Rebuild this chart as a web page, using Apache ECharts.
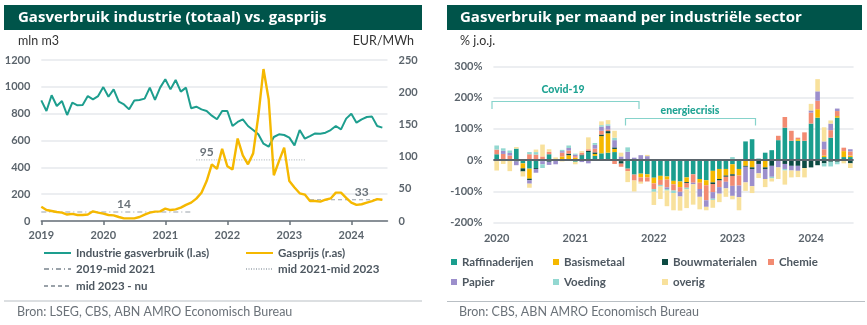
<!DOCTYPE html>
<html><head><meta charset="utf-8">
<script src="https://cdn.jsdelivr.net/npm/echarts@6/dist/echarts.min.js"></script>
<style>html,body{margin:0;padding:0;background:#fff}#c{width:867px;height:325px}</style>
</head><body><div id="c"></div>
<script>
// ---------- categories / tick labels ----------
const leftYears = ['2019','2020','2021','2022','2023','2024'];
const rightYears = ['2020','2021','2022','2023','2024'];
const monthCodes = ['01','02','03','04','05','06','07','08','09','10','11','12'];
const leftMonths = [];
leftYears.forEach(y => monthCodes.forEach(m => leftMonths.push(y + '-' + m)));
leftMonths.length = 68; // Jan 2019 .. Aug 2024
const rightMonths = [];
rightYears.forEach(y => monthCodes.forEach(m => rightMonths.push(y + '-' + m)));
rightMonths.length = 55; // Jan 2020 .. Jul 2024

// ---------- left chart values ----------
const gasUse = [
  899, 820, 937, 857, 894, 790, 882, 862, 864, 931, 907, 931,
  998, 926, 981, 889, 869, 832, 899, 902, 912, 994, 902, 994,
  1056, 981, 1051, 964, 994, 840, 852, 832, 820, 785, 758, 820,
  820, 708, 738, 758, 708, 678, 646, 576, 554, 626, 646, 641,
  621, 564, 678, 614, 633, 653, 651, 658, 678, 708, 683, 763,
  800, 733, 758, 775, 778, 708, 696, null
];
const gasPrice = [
  22, 17, 15.5, 14, 13, 10, 11, 9.3, 9.3, 10, 15, 13,
  11.4, 9.3, 8.8, 6.2, 4.1, 4.1, 4.1, 6.2, 10, 13, 14.5, 15,
  19.2, 17, 18, 20.7, 25, 28.5, 34.7, 44, 62, 88, 81, 112,
  85, 80, 128, 102, 88, 105, 163, 236, 189, 71, 93, 114,
  62, 52, 43, 41, 31, 31, 30, 33, 35, 44, 44, 36,
  28.5, 25, 26, 28.5, 31, 34, 33, null
];
const periodNames = ['2019-mid 2021', 'mid 2021-mid 2023', 'mid 2023 - nu'];
const periodAverages = [14, 95, 33];
const periodStart = [0, 30, 52];
const periodEnd = [29, 51, 66];
const periodLabelAt = [16, 32, 62];

// ---------- right chart values (% j.o.j., Jan 2020 .. Jul 2024) ----------
const sectorNames = ['Raffinaderijen','Basismetaal','Bouwmaterialen','Chemie','Papier','Voeding','overig'];
const raffinaderijen = [19,0,0,37,-10,-27,-25,-3,19,0,0,0,-5,15,26,14,22,24,26,0,-27,-46,-43,-45,
  -56,-50,-52,-66,-68,-55,-45,-60,-64,-34,-28,-28,-13,-28,60,67,5,24,32,64,104,62,62,62,
  117,136,10,72,136,10,10];
const basismetaal = [0,0,3,0,-16,-32,0,0,0,0,12,16,8,0,0,6,55,62,10,-3,0,0,-12,-10,
  -18,-13,-10,-11,-18,-15,0,-12,-16,-37,-32,-21,-32,-21,-18,-23,0,-23,0,0,0,0,5,0,
  0,27,5,0,5,19,5];
const bouwmaterialen = [-3,0,0,-4,-10,-5,-3,0,-5,0,0,5,0,3,4,5,5,7,5,-8,0,0,0,3,
  0,0,0,0,0,-3,0,0,0,-5,-5,-4,-5,0,-3,-5,-12,-5,-18,0,-12,-18,-18,-25,
  -23,-16,-10,-5,-5,0,-10];
const chemie = [15,20,12,0,0,19,18,12,8,3,12,10,5,6,5,12,12,5,-12,-10,-8,-19,-14,-13,
  -18,-16,-25,-20,-15,-15,-27,-20,-48,-26,-21,-16,-32,-32,0,0,0,0,0,14,34,32,5,27,
  35,27,20,24,16,11,13];
const papier = [0,10,8,-12,0,-11,-12,-10,-10,-13,5,8,5,-6,-10,12,13,12,23,12,27,8,16,10,
  0,0,-5,0,-15,0,-5,-25,-21,-21,-21,-21,-32,-37,-50,-55,-30,-32,-35,-23,-16,-15,-16,0,
  7,30,25,21,8,0,7];
const voeding = [13,8,8,0,0,7,8,-12,0,0,4,8,3,0,0,6,5,5,8,0,14,0,0,0,
  -9,-5,-5,-8,0,-5,0,0,0,-4,0,0,10,0,0,0,0,0,-5,0,-5,0,0,0,
  0,0,-10,-15,-8,0,0];
const overig = [-30,-12,-35,5,-16,-13,8,38,8,6,-4,0,-8,5,38,0,12,13,22,12,-35,-35,-6,4,
  -42,-40,-50,-55,-45,-60,-65,-40,-11,-25,-27,-27,-11,-42,-27,-22,-15,-26,-10,-37,-45,-22,-20,-30,
  21,39,45,10,0,-10,-15];
const sectorValues = [raffinaderijen, basismetaal, bouwmaterialen, chemie, papier, voeding, overig];
const sectorColors = ['#1a9e8e','#f5b800','#0c4a42','#f28b72','#9c8fcc','#93d8d1','#f8e19c'];

const yLeftTicks = {min:0, max:1200, interval:200};
const yRightTicks = {min:0, max:250, interval:50};
const yBarTicks = {min:-200, max:300, interval:100};

// ---------- styles ----------
const FONT = 'Lato, "Open Sans", sans-serif';
const TITLE_FONT = '"Open Sans", Lato, sans-serif';
const axisLabelStyle = {color:'#5b646c', fontSize:11, fontWeight:'bold', fontFamily:FONT};
const legendText = {color:'#4d5760', fontSize:11.5, fontWeight:'bold', fontFamily:FONT};
const TEAL = '#1d9e8e', GOLD = '#f5b800';

const yearTick = (i) => i % 12 === 0;

function periodSeries(k, dashType, color) {
  const data = leftMonths.map((_, i) => (i < periodStart[k] || i > periodEnd[k]) ? '-' : periodAverages[k]);
  return {
    name: periodNames[k], type: 'line', xAxisIndex: 0, yAxisIndex: 1,
    data, showSymbol: false, symbol: 'none', silent: true, z: 1,
    lineStyle: {color, width: 1.2, type: dashType},
    itemStyle: {color},
    markPoint: {
      silent: true, symbol: 'circle', symbolSize: 0, animation: false,
      itemStyle: {color: 'transparent'},
      label: {show: true, position: 'top', distance: 2, color: '#6a7279', fontSize: 12, fontWeight: 'bold',
              fontFamily: FONT, formatter: p => String(p.value)},
      data: [{coord: [leftMonths[periodLabelAt[k]], periodAverages[k]], value: periodAverages[k]}]
    }
  };
}

const series = [
  {name:'Industrie gasverbruik (l.as)', type:'line', xAxisIndex:0, yAxisIndex:0, data:gasUse,
   showSymbol:false, symbol:'none', lineStyle:{color:TEAL, width:2}, itemStyle:{color:TEAL}, z:3},
  {name:'Gasprijs (r.as)', type:'line', xAxisIndex:0, yAxisIndex:1, data:gasPrice,
   showSymbol:false, symbol:'none', lineStyle:{color:GOLD, width:2.4}, itemStyle:{color:GOLD}, z:4},
  periodSeries(0, [5,3,1,3], '#9aa2a9'),
  periodSeries(1, [1,1.5], '#b5bcc2'),
  periodSeries(2, [4,3], '#9aa2a9')
];
sectorNames.forEach((nm, k) => {
  const s = {name: nm, type:'bar', xAxisIndex:1, yAxisIndex:2, stack:'sec', data: sectorValues[k],
    barWidth: 4.6, itemStyle:{color: sectorColors[k]}, silent:true};
  if (k === sectorNames.length - 1) {
    s.markLine = {silent:true, symbol:'none', animation:false, label:{show:false},
      lineStyle:{color:'#5b656c', width:2, type:'solid'}, data:[{yAxis:0}]};
  }
  series.push(s);
});

function lineLegend(name, left, top) {
  return {data:[name], left, top, itemWidth:27, itemHeight:3, itemGap:0, textStyle:legendText, padding:0,
          itemStyle:{opacity:0, borderWidth:0}, selectedMode:false};
}
function boxLegend(name, left, top) {
  return {data:[{name, icon:'rect'}], left, top, itemWidth:6, itemHeight:6, itemGap:0, textStyle:legendText, padding:0,
          selectedMode:false};
}

const option = {
  animation: false,
  grid: [
    {left:41.3, width:346.2, top:60, height:161},
    {left:493.4, width:360.2, top:66.3, height:156.5}
  ],
  xAxis: [
    {type:'category', gridIndex:0, data:leftMonths, boundaryGap:false,
     axisLine:{lineStyle:{color:'#68727a', width:1.5}},
     axisTick:{interval:(i)=>yearTick(i), length:4, lineStyle:{color:'#68727a', width:1.5}},
     axisLabel:{interval:(i)=>yearTick(i), formatter:v=>v.slice(0,4), margin:9, ...axisLabelStyle},
     splitLine:{show:false}},
    {type:'category', gridIndex:1, data:rightMonths, boundaryGap:true,
     axisLine:{show:false}, axisTick:{show:false},
     axisLabel:{interval:(i)=>yearTick(i), formatter:v=>v.slice(0,4), margin:10, ...axisLabelStyle},
     splitLine:{show:false}}
  ],
  yAxis: [
    {type:'value', gridIndex:0, ...yLeftTicks, position:'left',
     axisLine:{show:false}, axisTick:{show:false},
     axisLabel:{margin:11, formatter:v=>String(v), ...axisLabelStyle},
     splitLine:{lineStyle:{color:'#e6e9ec', width:1.5}}},
    {type:'value', gridIndex:0, ...yRightTicks, position:'right',
     axisLine:{show:false}, axisTick:{show:false},
     axisLabel:{margin:11, formatter:v=>String(v), ...axisLabelStyle}, splitLine:{show:false}},
    {type:'value', gridIndex:1, ...yBarTicks,
     axisLine:{show:false}, axisTick:{show:false},
     axisLabel:{margin:11, formatter:v=>v + '%', ...axisLabelStyle},
     splitLine:{lineStyle:{color:'#e6e9ec', width:1.5}}}
  ],
  legend: [
    lineLegend('Industrie gasverbruik (l.as)', 43, 247),
    lineLegend('Gasprijs (r.as)', 245, 247),
    lineLegend(periodNames[0], 43, 263),
    lineLegend(periodNames[1], 245, 263),
    lineLegend(periodNames[2], 43, 280),
    boxLegend(sectorNames[0], 451, 256),
    boxLegend(sectorNames[1], 553, 256),
    boxLegend(sectorNames[2], 662, 256),
    boxLegend(sectorNames[3], 768, 256),
    boxLegend(sectorNames[4], 451, 276),
    boxLegend(sectorNames[5], 553, 276),
    boxLegend(sectorNames[6], 662, 276)
  ],
  series,
  graphic: [
    {type:'rect', shape:{x:4, y:5, width:418, height:25}, style:{fill:'#00544a'}, silent:true},
    {type:'text', x:18, y:17.5, style:{text:'Gasverbruik industrie (totaal) vs. gasprijs', fill:'#fff',
      font:'bold 15px ' + TITLE_FONT, verticalAlign:'middle'}, silent:true},
    {type:'rect', shape:{x:447, y:5, width:415, height:25}, style:{fill:'#00544a'}, silent:true},
    {type:'text', x:460, y:17.5, style:{text:'Gasverbruik per maand per industriële sector', fill:'#fff',
      font:'bold 15px ' + TITLE_FONT, verticalAlign:'middle'}, silent:true},
    {type:'text', x:18, y:41, style:{text:'mln m3', fill:'#333', font:'12.5px ' + FONT, verticalAlign:'middle'}, silent:true},
    {type:'text', x:414, y:41, style:{text:'EUR/MWh', fill:'#333', font:'12.5px ' + FONT, verticalAlign:'middle', align:'right'}, silent:true},
    {type:'text', x:460, y:41, style:{text:'% j.o.j.', fill:'#333', font:'12.5px ' + FONT, verticalAlign:'middle'}, silent:true},
    {type:'line', shape:{x1:4, y1:301, x2:422, y2:301}, style:{stroke:'#b9bfc4', lineWidth:1}, silent:true},
    {type:'line', shape:{x1:447, y1:301.5, x2:865, y2:301.5}, style:{stroke:'#b9bfc4', lineWidth:1}, silent:true},
    {type:'text', x:17, y:312, style:{text:'Bron: LSEG, CBS, ABN AMRO Economisch Bureau', fill:'#6b7279', font:'12.5px ' + FONT, verticalAlign:'middle'}, silent:true},
    {type:'text', x:459, y:312, style:{text:'Bron: CBS, ABN AMRO Economisch Bureau', fill:'#6b7279', font:'12.5px ' + FONT, verticalAlign:'middle'}, silent:true},
    // annotation brackets
    {type:'polyline', shape:{points:[[492,109],[492,101.5],[639,101.5],[639,109]]}, style:{stroke:'#86d3cb', lineWidth:1.2, fill:null}, silent:true},
    {type:'text', x:563, y:90, style:{text:'Covid-19', fill:'#1fa393', font:'900 10.5px ' + FONT, align:'center', verticalAlign:'middle'}, silent:true},
    {type:'polyline', shape:{points:[[625.5,125.5],[625.5,118.5],[755.5,118.5],[755.5,125.5]]}, style:{stroke:'#86d3cb', lineWidth:1.2, fill:null}, silent:true},
    {type:'text', x:690, y:110.5, style:{text:'energiecrisis', fill:'#1fa393', font:'900 10.5px ' + FONT, align:'center', verticalAlign:'middle'}, silent:true}
  ]
};
const chart = echarts.init(document.getElementById('c'), null, {renderer:'canvas'});
chart.setOption(option);
</script>
</body></html>
